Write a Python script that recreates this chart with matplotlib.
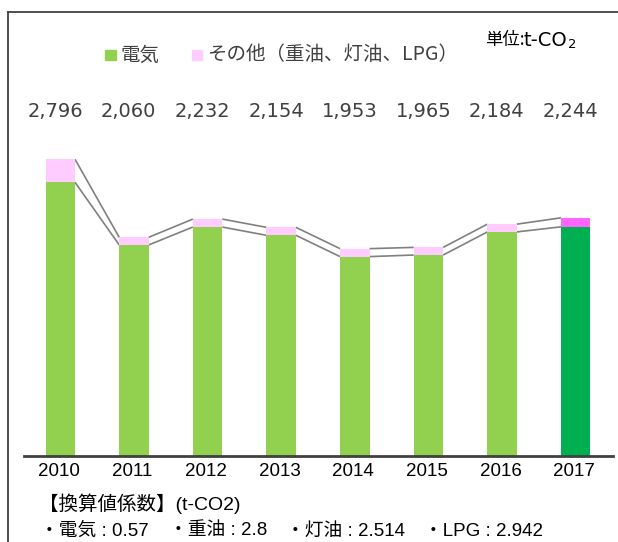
import matplotlib
matplotlib.use("Agg")
import matplotlib.pyplot as plt
from matplotlib.lines import Line2D
from matplotlib.patches import Rectangle
import numpy as np

plt.rcParams['font.family'] = ['Noto Sans CJK JP', 'DejaVu Sans']

years = ["2010", "2011", "2012", "2013", "2014", "2015", "2016", "2017"]
electricity = [2579, 1988, 2157, 2079, 1878, 1893, 2111, 2159]
other = [217, 72, 75, 75, 75, 72, 73, 85]
legend_labels = ["電気", "その他（重油、灯油、LPG）"]
factor_title = "【換算値係数】(t-CO2)"
factor_items = ["・電気 : 0.57", "・重油 : 2.8", "・灯油 : 2.514", "・LPG : 2.942"]

W, H = 618, 542
fig = plt.figure(figsize=(W / 100, H / 100), dpi=100)

def fx(x):
    return x / W

def fy(y):
    return 1 - y / H

# plot area
left, right, base, top = 23.5, 612.5, 455.7, 12.0
ax = fig.add_axes([fx(left), fy(base), (right - left) / W, (base - top) / H])
scale = 0.10601  # px per unit
ymax = (base - top) / scale

x = np.arange(len(years))
bw = 0.4
green = ["#92D050"] * (len(years) - 1) + ["#00B050"]
pink = ["#FFCCFF"] * (len(years) - 1) + ["#FF66FF"]
elec = np.array(electricity)
oth = np.array(other)
tot = elec + oth

ax.bar(x, elec, width=bw, color=green, zorder=2)
ax.bar(x, oth, width=bw, bottom=elec, color=pink, zorder=2)

# series lines
for i in range(len(x) - 1):
    for vals in (elec, tot):
        ax.plot([x[i] + bw / 2, x[i + 1] - bw / 2], [vals[i], vals[i + 1]],
                color="#808080", lw=1.2, zorder=1, solid_capstyle="butt")

ax.set_xlim(-0.5, len(x) - 0.5)
ax.set_ylim(0, ymax)
for s in ["top", "right", "left"]:
    ax.spines[s].set_visible(False)
ax.spines["bottom"].set_color("#404040")
ax.spines["bottom"].set_linewidth(2.0)
ax.set_yticks([])
ax.set_xticks([])
ax.patch.set_alpha(0)

# year labels
for i, yr in enumerate(years):
    ax.text(x[i] - 0.02, (base - 472) / scale, yr, ha="center", va="center",
            fontsize=13.5, family="Liberation Sans", color="black", clip_on=False)

# total labels
for i, t in enumerate(tot):
    ax.text(x[i] - 0.07, (base - 111.5) / scale, f"{t:,}", ha="center", va="center",
            fontsize=14, family="DejaVu Sans", color="#404040")

# frame
fig.add_artist(Line2D([fx(7.5), fx(7.5)], [fy(12), fy(H)], color="#404040", lw=1.3))
fig.add_artist(Line2D([fx(7.5), fx(W)], [fy(12), fy(12)], color="#404040", lw=1.3))

# clipped fragment at very top (as in the reference)
fig.text(fx(81), fy(-5), "2", ha="center", va="center", fontsize=13,
         family="Liberation Sans", color="black")

# legend
sq = 10.5
fig.add_artist(Rectangle((fx(105), fy(60)), sq / W, sq / H, color="#92D050",
                         transform=fig.transFigure))
fig.text(fx(121), fy(55), legend_labels[0], ha="left", va="center", fontsize=14,
         color="#404040")
fig.add_artist(Rectangle((fx(191.5), fy(60)), sq / W, sq / H, color="#FFCCFF",
                         transform=fig.transFigure))
fig.text(fx(207), fy(55), legend_labels[1], ha="left", va="center", fontsize=14,
         color="#404040")

# unit label
fig.text(fx(485), fy(39.5), "単位:", ha="left", va="center", fontsize=12.5, color="black")
fig.text(fx(523), fy(40), "t-CO", ha="left", va="center", fontsize=14,
         family="DejaVu Sans", color="black")
fig.text(fx(568), fy(44.5), "2", ha="left", va="center", fontsize=9.5,
         family="DejaVu Sans", color="black")

# factors
fig.text(fx(39), fy(504), factor_title, ha="left", va="center", fontsize=14,
         family=["Liberation Sans", "Noto Sans CJK JP"], color="black")
xs = [39.5, 169, 286.5, 424.5]
for xi, item in zip(xs, factor_items):
    fig.text(fx(xi), fy(531), item, ha="left", va="center", fontsize=13.5,
             family=["Liberation Sans", "Noto Sans CJK JP"], color="black")

fig.savefig("out.png", dpi=100)
